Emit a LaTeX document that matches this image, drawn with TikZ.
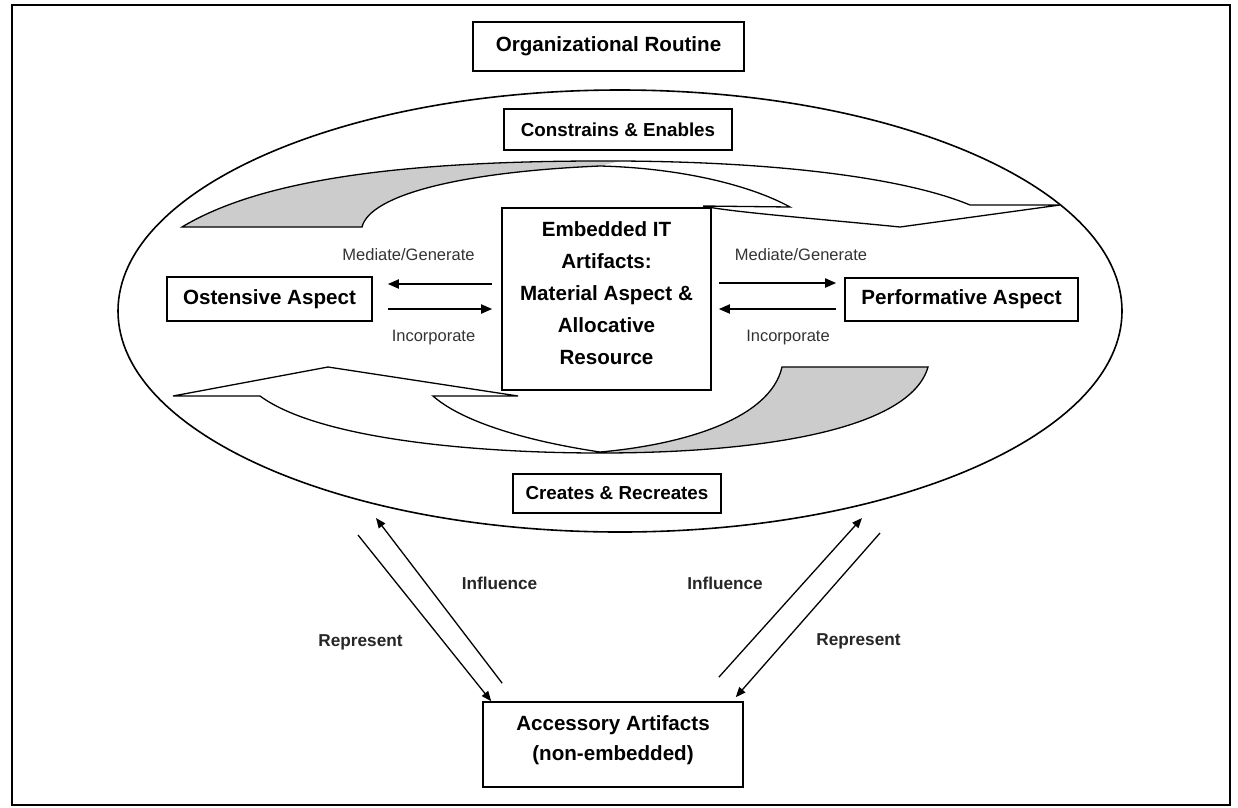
\documentclass[tikz,border=0pt]{standalone}
\usepackage{fontspec}
\setmainfont{Liberation Sans}
\usetikzlibrary{arrows.meta,calc}
\begin{document}
\begin{tikzpicture}[x=1pt,y=-1pt,
  box/.style={draw, line width=1.6pt, fill=white, inner sep=0pt},
  big/.style={font=\fontsize{20.6}{32}\selectfont\bfseries},
  mid/.style={font=\fontsize{18.8}{24}\selectfont\bfseries},
  lab/.style={font=\fontsize{16.5}{20}\selectfont, text=black!80},
  blab/.style={font=\fontsize{17.2}{20}\selectfont\bfseries, text=black!85},
  harr/.style={line width=1.8pt, -{Triangle[length=11pt,width=9pt]}},
  darr/.style={line width=1.3pt, -{Triangle[length=10pt,width=8pt]}},
  band/.style={line width=1.3pt, line join=miter}
]
\useasboundingbox (0,0) rectangle (1238,807);
\draw[line width=1.3pt] (12,5) rectangle (1230,805);

% ellipse
\draw[line width=1.6pt] (620,311) ellipse [x radius=502pt, y radius=221pt];

% curved arrow bands
\def\topband{(182,227) -- (362,227) .. controls (370,195) and (460,172) .. (600,166) .. controls (680,168) and (750,185) .. (790,207) -- (703,206) .. controls (730,212) and (820,219) .. (900,227) -- (1060,205) -- (970,205) .. controls (910,180) and (790,162) .. (620,161) .. controls (400,160) and (260,180) .. (182,227) -- cycle}
\def\topgray{(182,227) -- (362,227) .. controls (370,195) and (460,172) .. (600,166) -- (620,161) .. controls (400,160) and (260,180) .. (182,227) -- cycle}
\def\botband{(173,396) -- (260,396) .. controls (320,440) and (480,453) .. (600,453) .. controls (760,453) and (910,430) .. (928,367) -- (782,367) .. controls (770,420) and (680,445) .. (600,452) .. controls (520,440) and (460,420) .. (433,396) -- (518,396) -- (328,367) -- cycle}
\def\botgray{(600,452) .. controls (680,445) and (770,420) .. (782,367) -- (928,367) .. controls (910,430) and (760,453) .. (600,453) -- cycle}

\fill[white] \topband;
\fill[gray!40] \topgray;
\draw[band] \topband;

\fill[white] \botband;
\fill[gray!40] \botgray;
\draw[band] \botband;

% boxes
\node[box, big, minimum width=271pt, minimum height=49pt] (org) at (608.5,46.5) {Organizational Routine};
\node[box, mid, minimum width=228pt, minimum height=41pt] (cons) at (618,129.5) {Constrains \& Enables};
\node[box, mid, minimum width=208pt, minimum height=39pt] (cre) at (617,493.5) {Creates \& Recreates};
\node[box, minimum width=209pt, minimum height=182pt] (emb) at (606.5,299) {};
\node[big, align=center] (embt) at (606.5,293) {Embedded IT\\Artifacts:\\Material Aspect \&\\Allocative\\Resource};
\node[box, big, minimum width=205pt, minimum height=44pt] (ost) at (269.5,299) {Ostensive Aspect};
\node[box, big, minimum width=233pt, minimum height=43pt] (perf) at (961.5,299.5) {Performative Aspect};
\node[box, minimum width=260pt, minimum height=85pt] (acc) at (613,744.5) {};
\node[big, align=center, font=\fontsize{20.6}{30}\selectfont\bfseries] (acct) at (613,740) {Accessory Artifacts\\(non-embedded)};

% horizontal arrows
\coordinate (la1) at ($(emb.west)+(-9,-15)$);
\coordinate (la2) at ($(ost.east)+(15,-15)$);
\coordinate (lb1) at ($(ost.east)+(15,10)$);
\coordinate (lb2) at ($(emb.west)+(-9,10)$);
\draw[harr] (la1) -- (la2);
\draw[harr] (lb1) -- (lb2);
\coordinate (ra1) at ($(emb.east)+(7,-16)$);
\coordinate (ra2) at ($(perf.west)+(-8,-16.5)$);
\coordinate (rb1) at ($(perf.west)+(-8,9.5)$);
\coordinate (rb2) at ($(emb.east)+(7,10)$);
\draw[harr] (ra1) -- (ra2);
\draw[harr] (rb1) -- (rb2);

\node[lab] (mgl) at (408.5,255) {Mediate/Generate};
\node[lab] (incl) at (433.5,338) {Incorporate};
\node[lab] (mgr) at (801,255) {Mediate/Generate};
\node[lab] (incr) at (788,338) {Incorporate};

% diagonal arrows
\coordinate (repls) at (358,535);
\coordinate (infle) at (376,518);
\coordinate (infre) at (862,518);
\coordinate (reprs) at (880,533);
\draw[darr] (repls) -- ($(acc.north west)+(9,0)$);
\draw[darr] ($(acc.north west)+(20,-18)$) -- (infle);
\draw[darr] ($(acc.north east)+(-25,-24)$) -- (infre);
\draw[darr] (reprs) -- ($(acc.north east)+(-8,-4)$);

\node[blab] (infl) at (499.5,583) {Influence};
\node[blab] (repl) at (360.5,642) {Represent};
\node[blab] (infr) at (725,583) {Influence};
\node[blab] (repr) at (858.5,641) {Represent};
\end{tikzpicture}
\end{document}
